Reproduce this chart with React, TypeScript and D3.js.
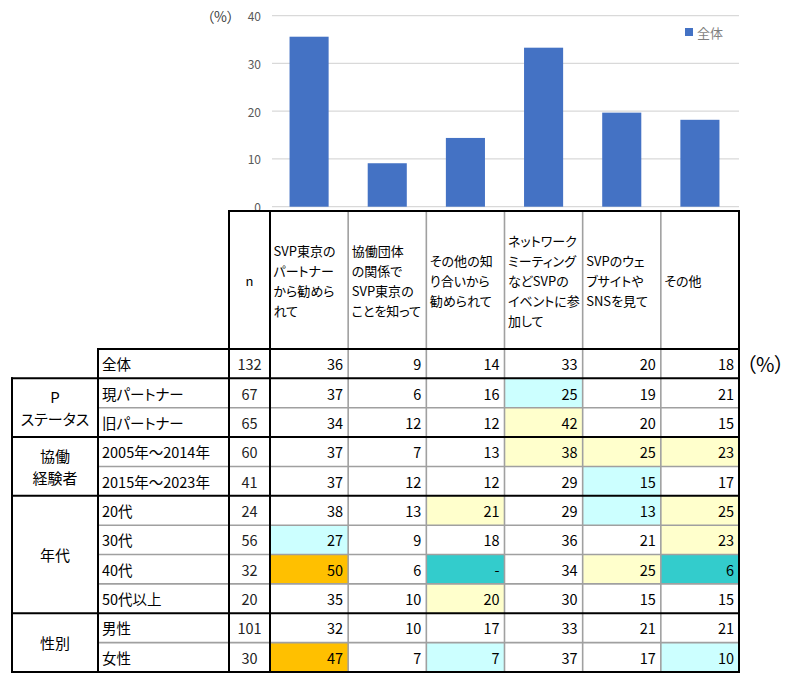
import React from 'react';
import * as d3 from 'd3';

// Survey: how respondents came to know SVP Tokyo (multiple answers, %)
const answers = [
  'SVP東京のパートナーから勧められて',
  '協働団体の関係でSVP東京のことを知って',
  'その他の知り合いから勧められて',
  'ネットワークミーティングなどSVPのイベントに参加して',
  'SVPのウェブサイトやSNSを見て',
  'その他',
];
const answerLines = [
  ['SVP東京の', 'パートナー', 'から勧めら', 'れて'],
  ['協働団体', 'の関係で', 'SVP東京の', 'ことを知って'],
  ['その他の知', 'り合いから', '勧められて'],
  ['ネットワーク', 'ミーティング', 'などSVPの', 'イベントに参', '加して'],
  ['SVPのウェ', 'ブサイトや', 'SNSを見て'],
  ['その他'],
];

const seriesName = '全体';
const totalN = 132;
const totalShares = [35.6, 9.1, 14.4, 33.3, 19.7, 18.2];
const yTicks = [0, 10, 20, 30, 40];

const groupNames = [['P', 'ステータス'], ['協働', '経験者'], ['年代'], ['性別']];
const groupSizes = [2, 2, 4, 2];
const segmentLabels = [
  '現パートナー', '旧パートナー',
  '2005年～2014年', '2015年～2023年',
  '20代', '30代', '40代', '50代以上',
  '男性', '女性',
];
const segmentN = [67, 65, 60, 41, 24, 56, 32, 20, 101, 30];
const segmentValues: (number | null)[][] = [
  [37, 6, 16, 25, 19, 21],
  [34, 12, 12, 42, 20, 15],
  [37, 7, 13, 38, 25, 23],
  [37, 12, 12, 29, 15, 17],
  [38, 13, 21, 29, 13, 25],
  [27, 9, 18, 36, 21, 23],
  [50, 6, null, 34, 25, 6],
  [35, 10, 20, 30, 15, 15],
  [32, 10, 17, 33, 21, 21],
  [47, 7, 7, 37, 17, 10],
];
// Gap versus the overall figure: 2 far above, 1 above, -1 below, -2 far below
const segmentFlags = [
  [0, 0, 0, -1, 0, 0],
  [0, 0, 0, 1, 0, 0],
  [0, 0, 0, 1, 1, 1],
  [0, 0, 0, 0, -1, 0],
  [0, 0, 1, 0, -1, 1],
  [-1, 0, 0, 0, 0, 1],
  [2, 0, -2, 0, 1, -2],
  [0, 0, 1, 0, 0, 0],
  [0, 0, 0, 0, 0, 0],
  [2, 0, -1, 0, 0, -1],
];

const FONT = "'Noto Sans CJK JP', 'Noto Sans', sans-serif";
const BAR = '#4472C4';
const flagFill: Record<number, string> = {
  2: '#FFC000',
  1: '#FFFFCC',
  [-1]: '#CCFFFF',
  [-2]: '#33CCCC',
};

export default function App() {
  const width = 789;
  const height = 675;

  // chart geometry
  const x = d3.scaleBand<string>().domain(answers).range([270, 739]).paddingInner(0).paddingOuter(0);
  const y = d3.scaleLinear().domain([0, 40]).range([206.7, 15.7]);
  const step = x.step();
  const barW = step / 2;

  // table geometry
  const xGroupL = 12;
  const xCatL = 98;
  const xNL = 229;
  const xNR = 270;
  const xR = 739;
  const headTop = 211;
  const headBottom = 349;
  const rows = [seriesName, ...segmentLabels];
  const rowBand = d3.scaleBand<string>().domain(rows).range([headBottom, 672]);
  const rh = rowBand.step();
  const tableBottom = 672;

  const colEdges = answers.map((a) => x(a) as number);

  // group boundaries
  const groupStarts: number[] = [];
  let acc = 0;
  groupSizes.forEach((s) => {
    groupStarts.push(acc);
    acc += s;
  });

  const black = '#000';
  const gray = '#A0A0A0';
  type Seg = { x1: number; y1: number; x2: number; y2: number; c: string };
  const grayLines: Seg[] = [];
  const blackLines: Seg[] = [];

  // verticals
  blackLines.push({ x1: xGroupL, y1: rowBand(segmentLabels[0]) as number, x2: xGroupL, y2: tableBottom, c: black });
  blackLines.push({ x1: xCatL, y1: headBottom, x2: xCatL, y2: tableBottom, c: black });
  blackLines.push({ x1: xNL, y1: headTop, x2: xNL, y2: tableBottom, c: black });
  blackLines.push({ x1: xNR, y1: headTop, x2: xNR, y2: tableBottom, c: black });
  colEdges.slice(1).forEach((cx) => grayLines.push({ x1: cx, y1: headTop, x2: cx, y2: tableBottom, c: gray }));
  blackLines.push({ x1: xR, y1: headTop, x2: xR, y2: tableBottom, c: black });

  // horizontals
  blackLines.push({ x1: xNL, y1: headTop, x2: xR, y2: headTop, c: black });
  blackLines.push({ x1: xCatL, y1: headBottom, x2: xR, y2: headBottom, c: black });
  groupStarts.forEach((g, gi) => {
    const top = rowBand(segmentLabels[g]) as number;
    blackLines.push({ x1: xGroupL, y1: top, x2: xR, y2: top, c: black });
    for (let k = 1; k < groupSizes[gi]; k++) {
      const yy = rowBand(segmentLabels[g + k]) as number;
      grayLines.push({ x1: xCatL, y1: yy, x2: xR, y2: yy, c: gray });
    }
  });
  blackLines.push({ x1: xGroupL, y1: tableBottom, x2: xR, y2: tableBottom, c: black });

  const totalRow = totalShares.map((v) => Math.round(v));
  const bodyValues: (number | null)[][] = [totalRow, ...segmentValues];
  const bodyFlags = [totalRow.map(() => 0), ...segmentFlags];
  const bodyN = [totalN, ...segmentN];

  const textStyle: React.CSSProperties = { fontFeatureSettings: '"palt"' };

  return (
    <svg
      width={width}
      height={height}
      style={{ position: 'absolute', left: 0, top: 0, background: '#fff', fontFamily: FONT }}
    >
      <rect width={width} height={height} fill="#fff" />

      {/* bar chart */}
      <g>
        {yTicks.map((t) => (
          <g key={t}>
            <line x1={272} x2={xR} y1={y(t)} y2={y(t)} stroke="#D9D9D9" strokeWidth={1.3} />
            <text x={261} y={y(t)} textAnchor="end" dominantBaseline="central" fontSize={12} fill="#595959">
              {t}
            </text>
          </g>
        ))}
        <text x={207} y={16} dominantBaseline="central" fontSize={14} fill="#404040" style={textStyle}>
          （%）
        </text>
        {answers.map((a, i) => (
          <rect
            key={a}
            x={(x(a) as number) + (step - barW) / 2}
            y={y(totalShares[i])}
            width={barW}
            height={y(0) - y(totalShares[i])}
            fill={BAR}
          />
        ))}
        <rect x={685} y={28} width={8} height={8} fill={BAR} />
        <text x={697} y={32} dominantBaseline="central" fontSize={13} fill="#7F7F7F">
          {seriesName}
        </text>
      </g>

      {/* table: cell fills */}
      {bodyValues.map((row, ri) =>
        row.map((_, ci) => {
          const f = bodyFlags[ri][ci];
          if (!f) return null;
          return (
            <rect
              key={`f${ri}-${ci}`}
              x={colEdges[ci]}
              y={rowBand(rows[ri]) as number}
              width={step}
              height={rh}
              fill={flagFill[f]}
            />
          );
        })
      )}

      {/* table: header */}
      <text x={(xNL + xNR) / 2} y={280} textAnchor="middle" dominantBaseline="central" fontSize={13} fill="#000">
        n
      </text>
      {answerLines.map((lines, ci) =>
        lines.map((ln, li) => (
          <text
            key={`h${ci}-${li}`}
            x={colEdges[ci] + 3.5}
            y={280 + (li - (lines.length - 1) / 2) * 20}
            dominantBaseline="central"
            fontSize={13}
            fill="#000"
            style={textStyle}
          >
            {ln}
          </text>
        ))
      )}

      {/* table: row labels, n and values */}
      {rows.map((r, ri) => {
        const cy = (rowBand(r) as number) + rh / 2;
        return (
          <g key={`r${ri}`}>
            <text x={xCatL + 4} y={cy} dominantBaseline="central" fontSize={14.5} fill="#000" style={textStyle}>
              {r}
            </text>
            <text x={(xNL + xNR) / 2} y={cy} textAnchor="middle" dominantBaseline="central" fontSize={14.5} fill="#222">
              {bodyN[ri]}
            </text>
            {bodyValues[ri].map((v, ci) => (
              <text
                key={ci}
                x={colEdges[ci] + step - 5}
                y={cy}
                textAnchor="end"
                dominantBaseline="central"
                fontSize={14.5}
                fill="#000"
              >
                {v === null ? '-' : v}
              </text>
            ))}
          </g>
        );
      })}

      {/* table: group labels */}
      {groupNames.map((lines, gi) => {
        const top = rowBand(segmentLabels[groupStarts[gi]]) as number;
        const cy = top + (groupSizes[gi] * rh) / 2;
        return lines.map((ln, li) => (
          <text
            key={`g${gi}-${li}`}
            x={(xGroupL + xCatL) / 2}
            y={cy + (li - (lines.length - 1) / 2) * 22}
            textAnchor="middle"
            dominantBaseline="central"
            fontSize={15}
            fill="#000"
            style={textStyle}
          >
            {ln}
          </text>
        ));
      })}

      <text x={746} y={363} dominantBaseline="central" fontSize={20} fill="#000" style={textStyle}>
        （%）
      </text>

      {/* table: borders */}
      {grayLines.map((l, i) => (
        <line key={`gl${i}`} x1={l.x1} y1={l.y1} x2={l.x2} y2={l.y2} stroke={l.c} strokeWidth={1.6} />
      ))}
      {blackLines.map((l, i) => (
        <line
          key={`bl${i}`}
          x1={l.x1}
          y1={l.y1}
          x2={l.x2}
          y2={l.y2}
          stroke={l.c}
          strokeWidth={2}
          strokeLinecap="square"
        />
      ))}
    </svg>
  );
}
